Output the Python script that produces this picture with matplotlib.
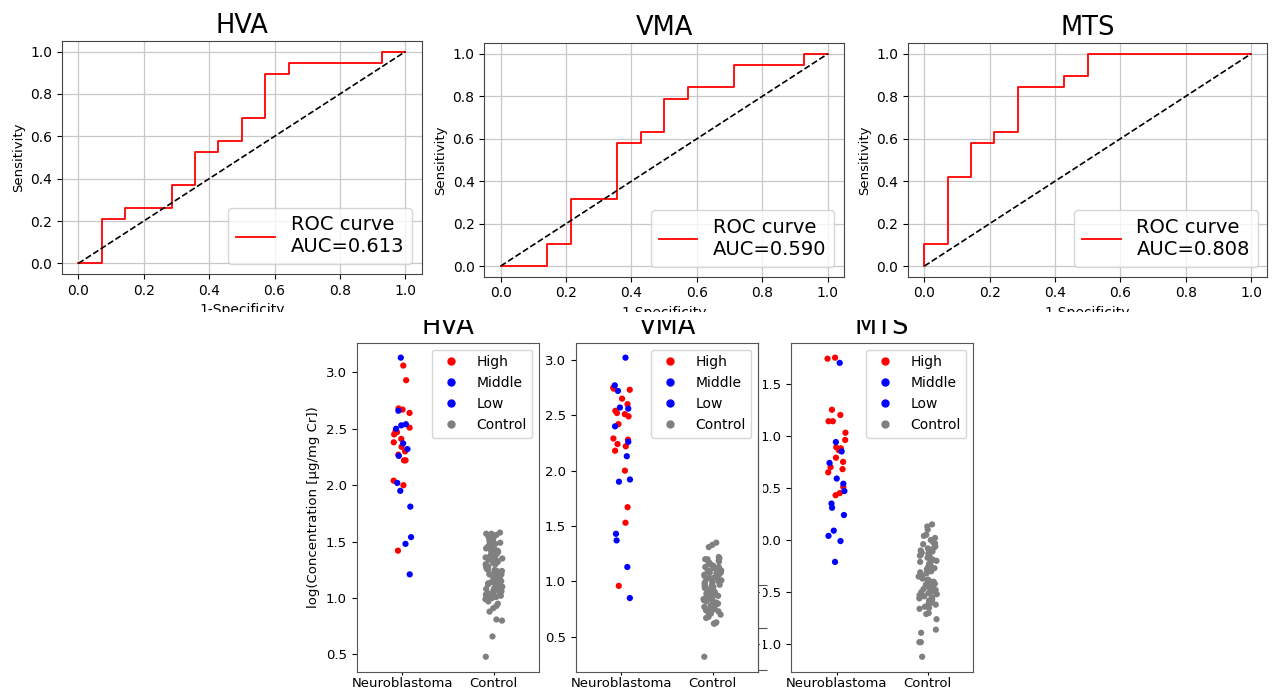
import numpy as np
import pandas as pd
import matplotlib
matplotlib.use("Agg")
import matplotlib.pyplot as plt
import seaborn as sns
from matplotlib.lines import Line2D
from matplotlib.patches import Rectangle

markers_names = ["HVA", "VMA", "MTS"]

# ROC curves: corner points as counts (false positives out of 14, true positives out of 19)
n_neg = 14
n_pos = 19
roc_fp = {
    "HVA": [0, 1, 2, 4, 5, 6, 7, 8, 9, 13, 14],
    "VMA": [0, 2, 3, 5, 6, 7, 8, 10, 13, 14],
    "MTS": [0, 0, 1, 2, 3, 4, 6, 7, 14],
}
roc_tp = {
    "HVA": [0, 4, 5, 7, 10, 11, 13, 17, 18, 19, 19],
    "VMA": [0, 2, 6, 11, 12, 15, 16, 18, 19, 19],
    "MTS": [0, 2, 8, 11, 12, 16, 17, 19, 19],
}
auc = {"HVA": 0.613, "VMA": 0.590, "MTS": 0.808}

# log concentrations
hva_high = [3.06, 2.93, 2.68, 2.67, 2.64, 2.51, 2.48, 2.47, 2.45, 2.41, 2.38, 2.34,
            2.30, 2.27, 2.22, 2.22, 2.04, 2.00, 1.42]
hva_middle = [3.13, 2.66, 2.54, 2.53, 2.50, 2.37, 2.32]
hva_low = [2.26, 2.02, 1.95, 1.81, 1.54, 1.48, 1.21]
hva_control = [1.58, 1.57, 1.57, 1.56, 1.55, 1.55, 1.54, 1.53, 1.52, 1.51, 1.50, 1.50,
               1.49, 1.48, 1.47, 1.47, 1.46, 1.46, 1.45, 1.44, 1.44, 1.43, 1.42, 1.42,
               1.41, 1.41, 1.40, 1.39, 1.39, 1.38, 1.37, 1.37, 1.36, 1.36, 1.35, 1.35,
               1.34, 1.33, 1.33, 1.32, 1.31, 1.30, 1.30, 1.29, 1.28, 1.27, 1.27, 1.26,
               1.25, 1.25, 1.24, 1.24, 1.23, 1.22, 1.21, 1.21, 1.20, 1.19, 1.18, 1.18,
               1.17, 1.16, 1.15, 1.15, 1.14, 1.14, 1.13, 1.12, 1.12, 1.11, 1.10, 1.09,
               1.09, 1.08, 1.07, 1.06, 1.06, 1.05, 1.04, 1.04, 1.03, 1.03, 1.02, 1.01,
               1.01, 1.00, 0.99, 0.97, 0.95, 0.93, 0.91, 0.88, 0.81, 0.80, 0.66, 0.48]

vma_high = [2.75, 2.74, 2.73, 2.65, 2.60, 2.54, 2.52, 2.51, 2.49, 2.42, 2.29, 2.28,
            2.24, 2.22, 2.18, 2.00, 1.67, 1.53, 0.96]
vma_middle = [3.02, 2.77, 2.72, 2.57, 2.56, 2.40, 2.26]
vma_low = [2.13, 1.92, 1.90, 1.43, 1.37, 1.13, 0.85]
vma_control = [1.35, 1.33, 1.31, 1.22, 1.21, 1.20, 1.20, 1.19, 1.18, 1.17, 1.16, 1.15,
               1.14, 1.13, 1.13, 1.12, 1.11, 1.10, 1.10, 1.09, 1.08, 1.08, 1.07, 1.06,
               1.06, 1.05, 1.04, 1.03, 1.03, 1.02, 1.01, 1.00, 1.00, 0.99, 0.99, 0.98,
               0.97, 0.96, 0.96, 0.95, 0.95, 0.94, 0.93, 0.92, 0.92, 0.91, 0.90, 0.90,
               0.89, 0.89, 0.88, 0.87, 0.86, 0.86, 0.85, 0.85, 0.84, 0.83, 0.83, 0.82,
               0.81, 0.80, 0.80, 0.79, 0.78, 0.77, 0.77, 0.76, 0.75, 0.74, 0.74, 0.73,
               0.72, 0.71, 0.70, 0.68, 0.67, 0.63, 0.62, 0.62, 0.32]

mts_high = [1.75, 1.74, 1.25, 1.20, 1.14, 1.14, 1.03, 0.96, 0.89, 0.88, 0.86, 0.79,
            0.75, 0.70, 0.68, 0.65, 0.51, 0.45, 0.43]
mts_middle = [1.70, 0.94, 0.85, 0.74, 0.59, 0.54, 0.47]
mts_low = [0.35, 0.31, 0.24, 0.09, 0.04, -0.01, -0.21]
mts_control = [0.15, 0.13, 0.10, 0.05, 0.04, 0.02, 0.00, -0.02, -0.03, -0.04, -0.06,
               -0.07, -0.08, -0.09, -0.10, -0.11, -0.12, -0.13, -0.14, -0.15, -0.16,
               -0.17, -0.18, -0.19, -0.20, -0.21, -0.22, -0.23, -0.24, -0.25, -0.26,
               -0.27, -0.28, -0.29, -0.30, -0.31, -0.32, -0.33, -0.34, -0.35, -0.36,
               -0.37, -0.38, -0.39, -0.40, -0.41, -0.42, -0.43, -0.44, -0.45, -0.46,
               -0.47, -0.48, -0.49, -0.50, -0.51, -0.52, -0.53, -0.54, -0.55, -0.56,
               -0.57, -0.58, -0.60, -0.61, -0.62, -0.64, -0.65, -0.66, -0.70, -0.71,
               -0.76, -0.86, -0.89, -0.98, -0.98, -1.12]

groups = ["Neuroblastoma", "Control"]
levels = ["High", "Middle", "Low", "Control"]
palette = {"High": "red", "Middle": "blue", "Low": "blue", "Control": "gray"}

strip_data = {
    "HVA": (hva_high, hva_middle, hva_low, hva_control),
    "VMA": (vma_high, vma_middle, vma_low, vma_control),
    "MTS": (mts_high, mts_middle, mts_low, mts_control),
}


def make_frame(high, middle, low, control):
    rows = []
    for lvl, vals in zip(levels, (high, middle, low, control)):
        grp = "Control" if lvl == "Control" else "Neuroblastoma"
        for v in vals:
            rows.append((grp, lvl, v))
    return pd.DataFrame(rows, columns=["group", "level", "value"])


W, H = 1276, 691
fig = plt.figure(figsize=(W / 100, H / 100), dpi=100)


def px_axes(x0, y0, x1, y1):
    return fig.add_axes([x0 / W, 1 - y1 / H, (x1 - x0) / W, (y1 - y0) / H])


# ---- top row: ROC curves
top_boxes = [(62, 41, 421.7, 274), (484.3, 43.3, 844, 276.7), (908, 43.3, 1267.3, 276.7)]
for name, box in zip(markers_names, top_boxes):
    ax = px_axes(*box)
    fpr = np.array(roc_fp[name]) / n_neg
    tpr = np.array(roc_tp[name]) / n_pos
    ax.plot(fpr, tpr, drawstyle="steps-post", color="red", lw=1.3,
            label=f"ROC curve\nAUC={auc[name]:.3f}")
    ax.plot([0, 1], [0, 1], "k--", lw=1.2)
    ax.grid(True, color="#c8c8c8", lw=0.9)
    ax.set_axisbelow(True)
    ax.set_title(name, fontsize=18.5)
    ax.set_xlabel("1-Specificity", fontsize=10)
    ax.set_ylabel("Sensitivity", fontsize=9.5)
    ax.tick_params(labelsize=10)
    ax.legend(loc="lower right", fontsize=14)
    for s in ax.spines.values():
        s.set_color("#444444")

# ---- bottom row: strip plots
np.random.seed(3)
bottom_boxes = [(356.7, 342.7, 539.3, 671.7), (575.7, 342.7, 758.3, 671.7),
                (791, 342.7, 973.3, 671.7)]
strip_axes = {}
for name, box in zip(markers_names, bottom_boxes):
    ax = px_axes(*box)
    df = make_frame(*strip_data[name])
    sns.stripplot(data=df, x="group", y="value", hue="level", order=groups,
                  hue_order=levels, palette=palette, size=4.5, jitter=True,
                  legend=False, ax=ax)
    ax.set_xlabel("")
    ax.set_ylabel("")
    ax.set_title(name, fontsize=18.5)
    ax.tick_params(labelsize=9.5)
    ax.tick_params(axis="x", length=2, pad=1.5)
    for s in ax.spines.values():
        s.set_color("#555555")
    handles = [Line2D([], [], marker="o", ls="", color=palette[l], markersize=5)
               for l in levels]
    ax.legend(handles, levels, loc="upper right", fontsize=10)
    strip_axes[name] = ax

strip_axes["HVA"].set_ylabel("log(Concentration [\u03bcg/mg Cr])", fontsize=9.5)
# MTS panel sits behind the VMA panel so its tick labels get covered
strip_axes["MTS"].set_zorder(-1)

# leftover tick marks on the right edge of the VMA panel
ax_t = strip_axes["VMA"].twinx()
ax_t.set_ylim(strip_axes["VMA"].get_ylim())
ax_t.set_yticks([0.97, 0.58, 0.2])
ax_t.set_yticklabels([])
ax_t.tick_params(axis="y", length=6.5, color="#555555")
for side in ["left", "top", "bottom"]:
    ax_t.spines[side].set_visible(False)
ax_t.spines["right"].set_color("#555555")
ax_t.set_zorder(3)

# white gaps where the panels were pasted together
fig.add_artist(Rectangle((0, 1 - 320 / H), 1, 8 / H, transform=fig.transFigure,
                         facecolor="white", edgecolor="none", zorder=1))
fig.add_artist(Rectangle((759.5 / W, 0), 3.5 / W, 1 - 336 / H, transform=fig.transFigure,
                         facecolor="white", edgecolor="none", zorder=1))

fig.savefig("out.png", dpi=100)
